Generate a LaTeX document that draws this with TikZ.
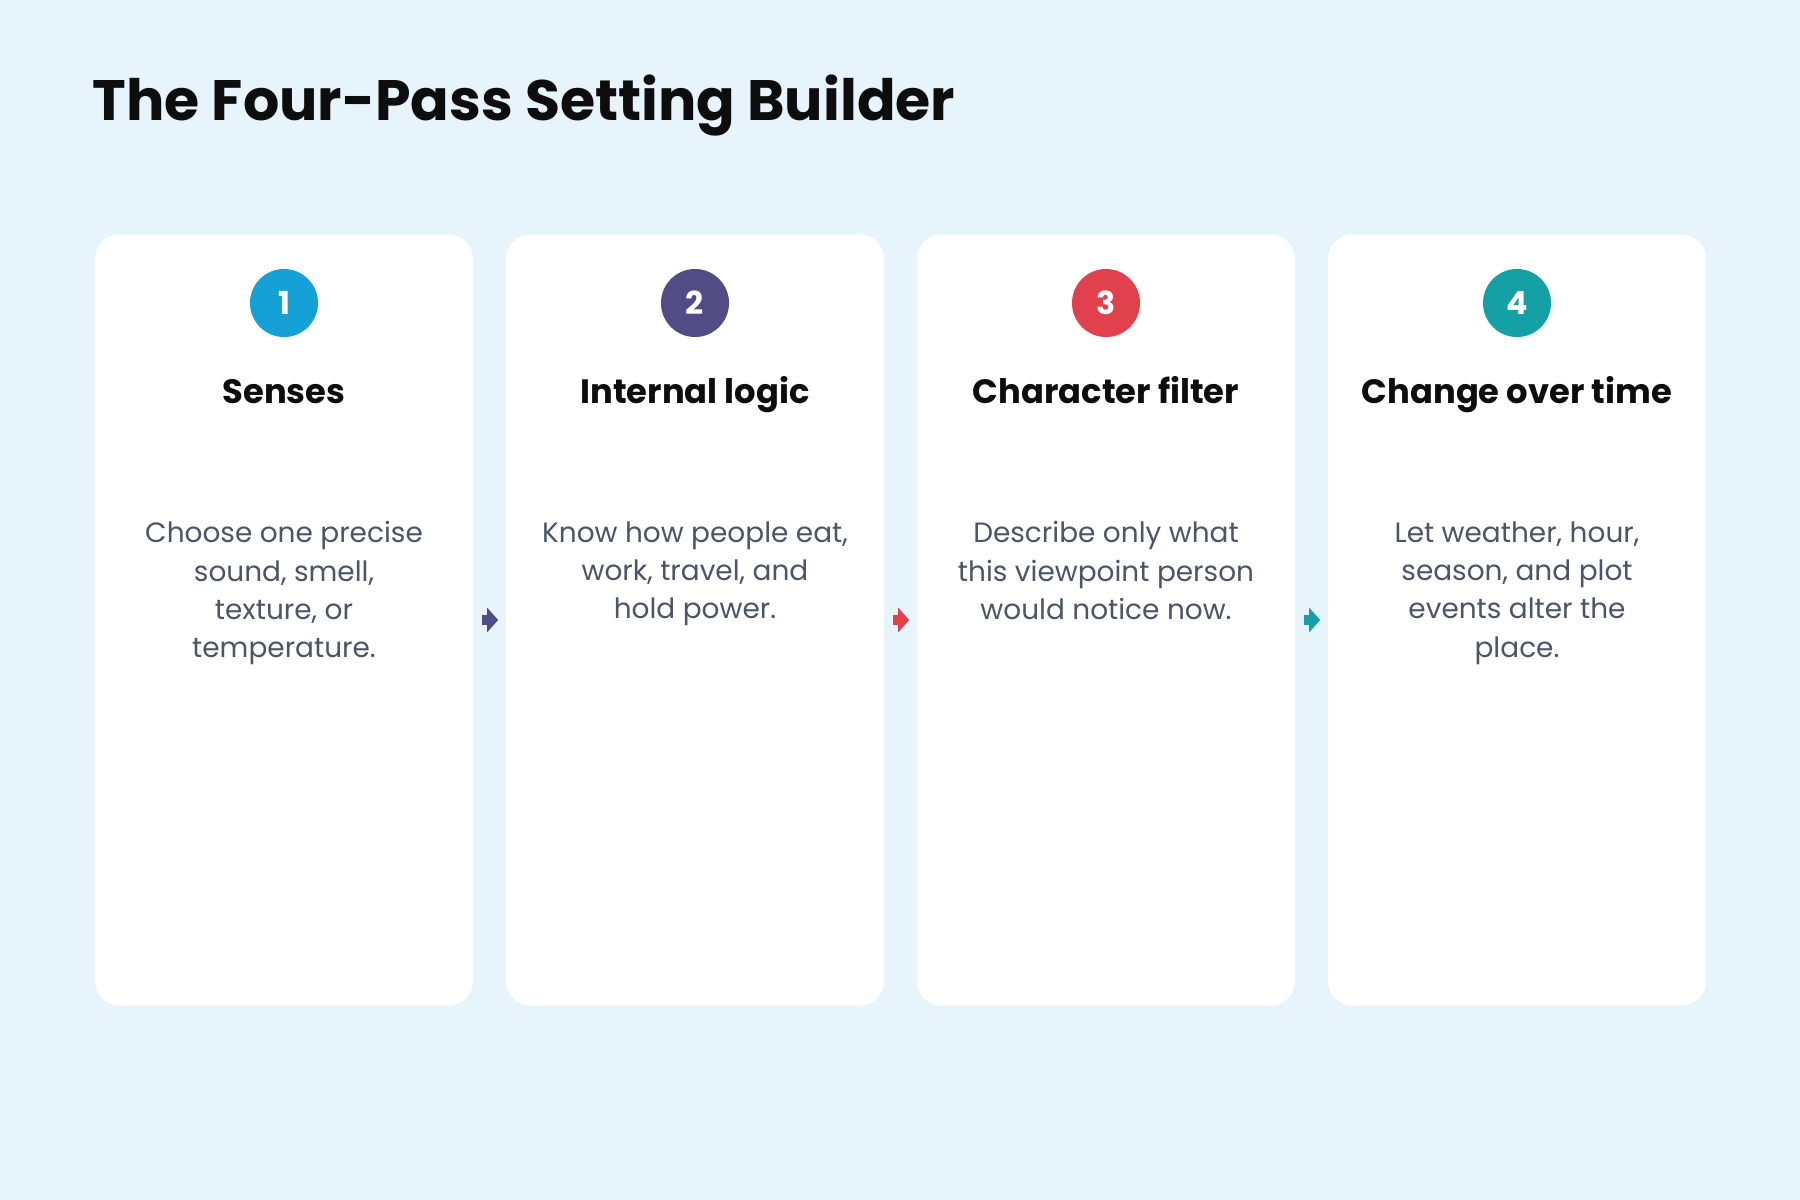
\documentclass[tikz,border=0pt]{standalone}
\usepackage{fontspec}
\setmainfont{Poppins}
\usetikzlibrary{arrows.meta}

\definecolor{bgBlue}{HTML}{E8F4FB}
\definecolor{titleBlack}{HTML}{0D0D0D}
\definecolor{bodyGray}{HTML}{4A5568}
\definecolor{stepBlue}{HTML}{16A1D6}
\definecolor{stepPurple}{HTML}{524C84}
\definecolor{stepRed}{HTML}{E0414C}
\definecolor{stepTeal}{HTML}{14A0A4}

\begin{document}
\begin{tikzpicture}
[x=0.01cm, y=-0.01cm,
  cardDecorate/.style={shape=rectangle,fill=white,rounded corners=0.25cm,minimum width=3.78cm,minimum height=7.71cm,inner sep=0pt},%
  numDecorate/.style={shape=circle,minimum size=0.68cm,inner sep=0pt,text=white,font=\fontsize{9}{9}\selectfont\bfseries},%
  headDecorate/.style={anchor=base,text=titleBlack,font=\fontsize{9.6}{12}\selectfont\bfseries},%
  bodyDecorate/.style={anchor=north,align=center,text=bodyGray,font=\fontsize{7.95}{10.9}\selectfont},%
  arrowDecorate/.style={-{Triangle[length=0.11cm,width=0.24cm]},line width=0.1cm,shorten <=0.08cm,shorten >=0.07cm}]
\fill[bgBlue] (0,0) rectangle (1800,1200);
\node (title) at (92,120) [anchor=base west,inner sep=0pt,text=titleBlack,font=\fontsize{16.2}{20}\selectfont\bfseries] {The Four-Pass Setting Builder};
%% cards
\foreach \i/\x/\col/\head/\body in {%
  1/284/stepBlue/Senses/{Choose one precise\\sound, smell,\\texture, or\\temperature.},
  2/695/stepPurple/Internal logic/{Know how people eat,\\work, travel, and\\hold power.},
  3/1106/stepRed/Character filter/{Describe only what\\this viewpoint person\\would notice now.},
  4/1517/stepTeal/Change over time/{Let weather, hour,\\season, and plot\\events alter the\\place.}}
{
  \node (card\i) at (\x,620) [cardDecorate] {};
  \node (num\i) at (\x,303) [numDecorate,fill=\col] {\i};
  \node (head\i) at (\x,403) [headDecorate] {\head};
  \node (body\i) at (\x,509) [bodyDecorate] {\body};
}
%% arrows between cards
\foreach \a/\b/\col in {1/2/stepPurple, 2/3/stepRed, 3/4/stepTeal}
{
  \draw[arrowDecorate,\col] (card\a.east) -- (card\b.west);
}
\end{tikzpicture}
\end{document}
